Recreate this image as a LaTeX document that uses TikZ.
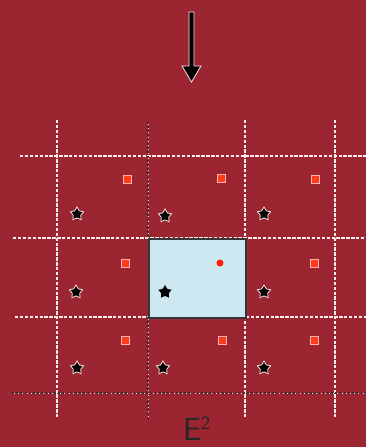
\documentclass[tikz,border=0pt]{standalone}
\usetikzlibrary{shapes.geometric}
\begin{document}
\begin{tikzpicture}[x=1pt,y=-1pt,
  wline/.style={draw=white!92!red, line width=2.9pt, dash pattern=on 3.4pt off 1.5pt},
  dline/.style={draw=black!80, line width=2pt, dash pattern=on 1.6pt off 2.6pt},
  dlinew/.style={draw=white!85!red, line width=1.0pt, dash pattern=on 1pt off 3.2pt, dash phase=-2pt},
  sq/.style={rectangle, fill=red!70!orange!90!white, draw=red!30!white, line width=0.7pt, minimum size=8pt, inner sep=0pt},
  dot/.style={circle, fill=red!75!orange, minimum size=7pt, inner sep=0pt},
  st/.style={star, star points=5, star point ratio=1.8, fill=black, draw=white!90!red, line width=0.8pt, minimum size=14pt, inner sep=0pt},
  lbl/.style={font=\sffamily, text=black!85, inner sep=0pt}]
\definecolor{bg}{HTML}{9B2530}
\definecolor{boxc}{HTML}{CDE8F1}
\fill[bg] (0,0) rectangle (366,447);
\useasboundingbox (0,0) rectangle (366,447);
% grid lines
\draw[wline] (20,156) -- (366,156);
\draw[wline] (13,238) -- (366,238);
\draw[wline] (15,317) -- (148,317);
\draw[wline] (246,317) -- (366,317);
\draw[wline] (57,120) -- (57,418);
\draw[wline] (245,120) -- (245,418);
\draw[wline] (335,120) -- (335,418);
\draw[dline] (148,122) -- (148,238);
\draw[dline] (148,317) -- (148,418);
\draw[dlinew] (148,122) -- (148,238);
\draw[dlinew] (148,317) -- (148,418);
\draw[dline] (12,393) -- (366,393);
\draw[dlinew] (12,393) -- (366,393);
% central box
\node[draw=black!70!cyan!40!black, line width=1.6pt, fill=boxc, minimum width=97pt, minimum height=79pt, inner sep=0pt, anchor=north west] (cell) at (148,238) {};
% red squares
\node[sq] (s11) at (127,179) {};
\node[sq] (s12) at (221,178) {};
\node[sq] (s13) at (315,179) {};
\node[sq] (s21) at (125,263) {};
\node[dot] (s22) at (220,263) {};
\node[sq] (s23) at (314,263) {};
\node[sq] (s31) at (125,340) {};
\node[sq] (s32) at (222,340) {};
\node[sq] (s33) at (314,340) {};
% stars
\node[st] (t11) at (77,214) {};
\node[st] (t12) at (165,216) {};
\node[st] (t13) at (264,214) {};
\node[st] (t21) at (76,292) {};
\node[st, draw=none] (t22) at (165,292) {};
\node[st] (t23) at (264,292) {};
\node[st] (t31) at (77,368) {};
\node[st] (t32) at (163,368) {};
\node[st] (t33) at (264,368) {};
% arrow
\draw[fill=black, draw=white!90!red, line width=0.8pt]
  (189,12) -- (194,12) -- (194,66) -- (201,66) -- (191.5,82) -- (182,66) -- (189,66) -- cycle;
% label
\node[lbl, anchor=base west] (e2) at (183,440) {\fontsize{32}{32}\selectfont E\raisebox{11pt}{\fontsize{19}{19}\selectfont 2}};
\end{tikzpicture}
\end{document}
